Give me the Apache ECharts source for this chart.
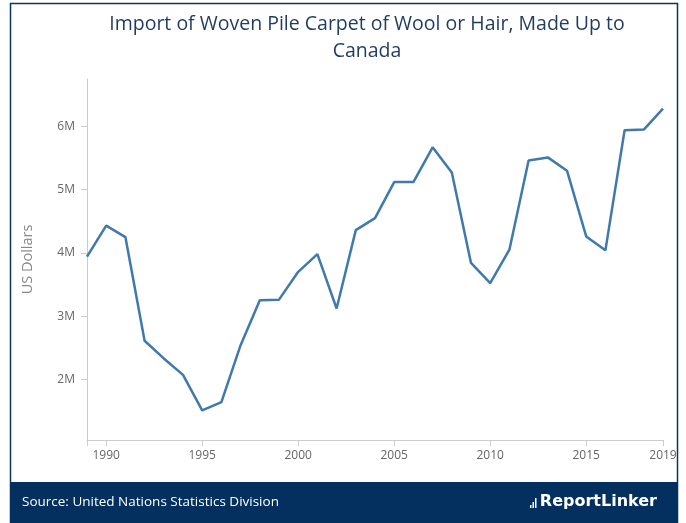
<!DOCTYPE html>
<html>
<head>
<meta charset="utf-8">
<script src="https://cdn.jsdelivr.net/npm/echarts@6/dist/echarts.min.js"></script>
<style>
html,body{margin:0;padding:0;background:#fff;}
#chart{width:686px;height:523px;}
</style>
</head>
<body>
<div id="chart"></div>
<script>
const years = ['1989','1990','1991','1992','1993','1994','1995','1996','1997','1998','1999','2000','2001','2002','2003','2004','2005','2006','2007','2008','2009','2010','2011','2012','2013','2014','2015','2016','2017','2018','2019'];
const importValues = [3940000,4430000,4250000,2610000,2330000,2070000,1510000,1640000,2540000,3250000,3260000,3700000,3980000,3120000,4360000,4550000,5120000,5120000,5670000,5270000,3840000,3520000,4050000,5460000,5510000,5300000,4260000,4040000,5940000,5950000,6280000];
const shownYearLabels = ['1990','1995','2000','2005','2010','2015','2019'];
const titleText = 'Import of Woven Pile Carpet of Wool or Hair, Made Up to\nCanada';
const sourceText = 'Source: United Nations Statistics Division';
const brandText = 'ReportLinker';

const chart = echarts.init(document.getElementById('chart'), null, {renderer:'canvas'});
const font = '"Open Sans", "Noto Sans", sans-serif';
const option = {
  backgroundColor: '#ffffff',
  animation: false,
  title: {
    text: titleText,
    left: 362,
    top: 6,
    textAlign: 'center',
    textStyle: {
      fontFamily: font,
      fontSize: 19.5,
      fontWeight: 'normal',
      color: '#1f3b5f',
      lineHeight: 27
    }
  },
  grid: {left: 87, right: 23, top: 79, bottom: 83, containLabel: false},
  xAxis: {
    type: 'category',
    data: years,
    boundaryGap: false,
    axisLine: {lineStyle: {color: '#cccccc', width: 1}},
    axisTick: {
      show: true,
      length: 6,
      lineStyle: {color: '#cccccc'},
      interval: function (i, v) { return v === '1989' || shownYearLabels.indexOf(v) >= 0; }
    },
    axisLabel: {
      interval: function (i, v) { return shownYearLabels.indexOf(v) >= 0; },
      color: '#666666',
      fontFamily: font,
      fontSize: 12,
      margin: 10
    },
    splitLine: {show: false}
  },
  yAxis: {
    type: 'value',
    min: 1040000,
    max: 6750000,
    name: 'US Dollars',
    nameLocation: 'middle',
    nameGap: 52,
    nameTextStyle: {color: '#888888', fontFamily: font, fontSize: 14.5},
    axisLine: {show: true, lineStyle: {color: '#cccccc', width: 1}},
    axisTick: {show: true, length: 6, lineStyle: {color: '#cccccc'}},
    splitLine: {show: false},
    axisLabel: {
      showMinLabel: false,
      showMaxLabel: false,
      color: '#666666',
      fontFamily: font,
      fontSize: 12,
      margin: 12,
      formatter: function (v) { return (v / 1000000) + 'M'; }
    }
  },
  series: [{
    type: 'line',
    data: importValues,
    showSymbol: false,
    symbol: 'none',
    lineStyle: {color: '#4178ae', width: 2.5},
    itemStyle: {color: '#4178ae'}
  }],
  graphic: [
    {type: 'rect', shape: {x: 10.5, y: 3.5, width: 667, height: 520}, style: {fill: 'none', stroke: '#0b355f', lineWidth: 1.5}, z: 10},
    {type: 'rect', shape: {x: 10, y: 482, width: 668, height: 41}, style: {fill: '#03305e'}, z: 11},
    {type: 'text', x: 22, y: 502, style: {text: sourceText, fill: '#ffffff', font: '13.5px "Open Sans", sans-serif', textVerticalAlign: 'middle', textAlign: 'left'}, z: 12},
    {type: 'text', x: 657, y: 502, style: {text: brandText, fill: '#ffffff', font: 'bold 16px "DejaVu Sans", sans-serif', textVerticalAlign: 'middle', textAlign: 'right'}, z: 12},
    {type: 'rect', shape: {x: 530, y: 505, width: 1.5, height: 3}, style: {fill: '#ffffff'}, z: 12},
    {type: 'rect', shape: {x: 532.5, y: 502, width: 1.5, height: 6}, style: {fill: '#ffffff'}, z: 12},
    {type: 'rect', shape: {x: 535, y: 498, width: 1.5, height: 10}, style: {fill: '#ffffff'}, z: 12}
  ]
};
chart.setOption(option);
</script>
</body>
</html>
